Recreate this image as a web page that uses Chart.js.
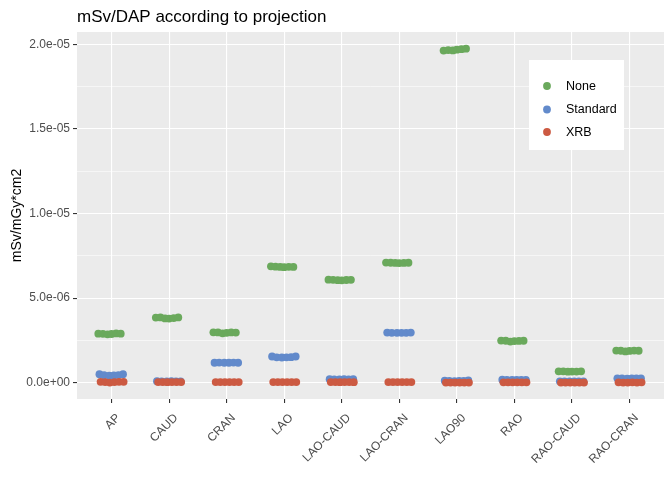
<!DOCTYPE html>
<html>
<head>
<meta charset="utf-8">
<script src="https://cdn.jsdelivr.net/npm/chart.js@4/dist/chart.umd.min.js"></script>
<style>
html,body{margin:0;padding:0;background:#fff;}
canvas{display:block;}
</style>
</head>
<body>
<canvas id="c" width="672" height="480"></canvas>
<script>
const chartTitle = "mSv/DAP according to projection";
const yAxisTitle = "mSv/mGy*cm2";
const categories = ["AP","CAUD","CRAN","LAO","LAO-CAUD","LAO-CRAN","LAO90","RAO","RAO-CAUD","RAO-CRAN"];
const seriesNames = ["None","Standard","XRB"];
const seriesColors = ["#6aa95c","#628acb","#cc5a42"];
const yTickValues = [0, 2.5e-6, 5e-6, 7.5e-6, 1e-5, 1.25e-5, 1.5e-5, 1.75e-5, 2e-5];
const yTickLabels = ["0.0e+00","","5.0e-06","","1.0e-05","","1.5e-05","","2.0e-05"];

// horizontal jitter offsets of the points inside each category
const jitterNone = [-0.23,-0.15,-0.07,0.0,0.08,0.16];
const jitterStandard = [-0.21,-0.13,-0.04,0.04,0.12,0.20];
const jitterXRB = [-0.19,-0.11,-0.03,0.05,0.13,0.21];

// values (mSv/mGy*cm2) for each category, six measurements each
const valuesNone = [
  [2.90e-6,2.89e-6,2.86e-6,2.88e-6,2.91e-6,2.90e-6],
  [3.85e-6,3.86e-6,3.80e-6,3.79e-6,3.82e-6,3.86e-6],
  [2.98e-6,2.97e-6,2.92e-6,2.95e-6,2.97e-6,2.96e-6],
  [6.88e-6,6.86e-6,6.84e-6,6.83e-6,6.85e-6,6.84e-6],
  [6.09e-6,6.08e-6,6.06e-6,6.05e-6,6.07e-6,6.08e-6],
  [7.10e-6,7.09e-6,7.08e-6,7.07e-6,7.08e-6,7.09e-6],
  [1.963e-5,1.966e-5,1.964e-5,1.968e-5,1.971e-5,1.974e-5],
  [2.49e-6,2.48e-6,2.43e-6,2.46e-6,2.47e-6,2.48e-6],
  [6.7e-7,6.7e-7,6.5e-7,6.6e-7,6.6e-7,6.7e-7],
  [1.90e-6,1.89e-6,1.85e-6,1.88e-6,1.90e-6,1.89e-6]
];
const valuesStandard = [
  [5.0e-7,4.4e-7,4.2e-7,4.3e-7,4.5e-7,5.0e-7],
  [9e-8,8e-8,8e-8,9e-8,8e-8,8e-8],
  [1.18e-6,1.19e-6,1.18e-6,1.18e-6,1.19e-6,1.18e-6],
  [1.55e-6,1.50e-6,1.49e-6,1.50e-6,1.51e-6,1.55e-6],
  [2.1e-7,2.0e-7,2.0e-7,2.1e-7,2.0e-7,2.1e-7],
  [2.96e-6,2.95e-6,2.95e-6,2.95e-6,2.95e-6,2.96e-6],
  [1.2e-7,1.0e-7,0.9e-7,1.0e-7,1.1e-7,1.3e-7],
  [1.8e-7,1.6e-7,1.6e-7,1.6e-7,1.7e-7,1.7e-7],
  [8e-8,7e-8,7e-8,8e-8,7e-8,8e-8],
  [2.6e-7,2.5e-7,2.4e-7,2.5e-7,2.5e-7,2.6e-7]
];
const valuesXRB = [
  [5e-8,4e-8,0.5e-8,4e-8,5e-8,5e-8],
  [4e-8,4e-8,3e-8,4e-8,4e-8,4e-8],
  [4e-8,4e-8,4e-8,4e-8,4e-8,4e-8],
  [4e-8,4e-8,4e-8,4e-8,4e-8,4e-8],
  [4e-8,4e-8,3e-8,4e-8,4e-8,3e-8],
  [4e-8,4e-8,4e-8,4e-8,4e-8,4e-8],
  [1e-8,1e-8,0.5e-8,1e-8,1e-8,1e-8],
  [2e-8,2e-8,2e-8,2e-8,2e-8,2e-8],
  [1e-8,1e-8,1e-8,1e-8,1e-8,1e-8],
  [2e-8,1e-8,1e-8,2e-8,1e-8,2e-8]
];

const FONT = "'Liberation Sans', Arial, sans-serif";

function buildPoints(values, jitter) {
  const pts = [];
  values.forEach((arr, ci) => {
    arr.forEach((v, k) => pts.push({x: ci + jitter[k], y: v}));
  });
  return pts;
}

const allValues = [valuesNone, valuesStandard, valuesXRB];
const allJitter = [jitterNone, jitterStandard, jitterXRB];

const datasets = seriesNames.map((name, si) => ({
  label: name,
  data: buildPoints(allValues[si], allJitter[si]),
  backgroundColor: seriesColors[si],
  borderWidth: 0,
  pointRadius: 3.9,
  pointHoverRadius: 3.9,
  order: 3 - si
}));

const panelPlugin = {
  id: 'panel',
  beforeDraw(chart) {
    const {ctx, chartArea: a} = chart;
    ctx.save();
    ctx.fillStyle = '#fff';
    ctx.fillRect(0, 0, chart.width, chart.height);
    ctx.fillStyle = '#ebebeb';
    ctx.fillRect(a.left, a.top, a.right - a.left, a.bottom - a.top);
    ctx.restore();
  },
  afterDraw(chart) {
    const {ctx, chartArea: a} = chart;
    ctx.save();
    // title
    ctx.fillStyle = '#000';
    ctx.font = '17px ' + FONT;
    ctx.textBaseline = 'alphabetic';
    ctx.textAlign = 'left';
    ctx.fillText(chartTitle, a.left, 22);
    // legend
    ctx.fillStyle = '#fff';
    ctx.fillRect(529, 60, 95, 90);
    const ys = [86, 109.5, 132];
    seriesNames.forEach((n, i) => {
      ctx.fillStyle = seriesColors[i];
      ctx.beginPath();
      ctx.arc(547, ys[i], 3.9, 0, Math.PI * 2);
      ctx.fill();
      ctx.fillStyle = '#000';
      ctx.font = '12.5px ' + FONT;
      ctx.textBaseline = 'middle';
      ctx.fillText(n, 566, ys[i] + 0.5);
    });
    ctx.restore();
  }
};

new Chart(document.getElementById('c'), {
  type: 'scatter',
  data: {datasets},
  plugins: [panelPlugin],
  options: {
    responsive: false,
    animation: false,
    devicePixelRatio: 1,
    layout: {padding: {top: 32, right: 8, left: 0, bottom: 0}},
    plugins: {legend: {display: false}, tooltip: {enabled: false}, title: {display: false}},
    scales: {
      x: {
        type: 'linear',
        min: -0.6,
        max: 9.6,
        afterBuildTicks(scale) { scale.ticks = categories.map((c, i) => ({value: i})); },
        afterFit(scale) { scale.height = 81; },
        border: {display: false},
        grid: {color: '#ffffff', lineWidth: 1.1, tickColor: '#333333', tickLength: 4},
        ticks: {
          autoSkip: false,
          maxRotation: 45,
          minRotation: 45,
          padding: 8,
          labelOffset: 7,
          color: '#4d4d4d',
          font: {family: FONT, size: 12},
          callback: (v) => categories[Math.round(v)]
        }
      },
      y: {
        type: 'linear',
        min: -9.63e-7,
        max: 2.0727e-5,
        afterBuildTicks(scale) { scale.ticks = yTickValues.map(v => ({value: v})); },
        afterFit(scale) { scale.width = 77; },
        border: {display: false},
        grid: {
          color: '#ffffff',
          lineWidth: (c) => (yTickLabels[c.index] ? 1.1 : 0.55),
          tickColor: (c) => (yTickLabels[c.index] ? '#333333' : 'rgba(0,0,0,0)'),
          tickLength: 4
        },
        title: {
          display: true,
          text: yAxisTitle,
          color: '#000',
          font: {family: FONT, size: 14},
          padding: {top: 9, bottom: 0}
        },
        ticks: {
          padding: 3,
          color: '#4d4d4d',
          font: {family: FONT, size: 12},
          callback: (v, i) => yTickLabels[i]
        }
      }
    }
  }
});
</script>
</body>
</html>
